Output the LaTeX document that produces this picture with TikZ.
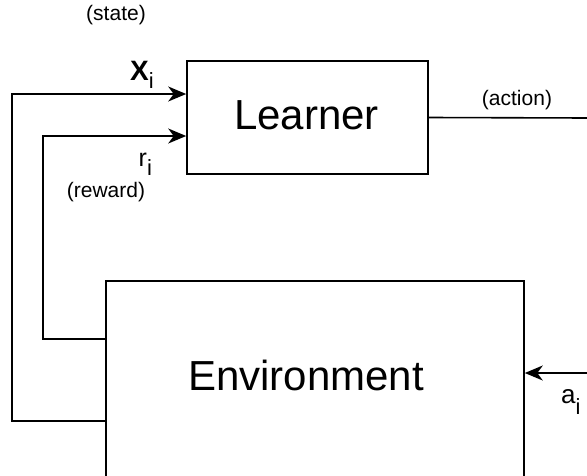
\documentclass[tikz,border=0pt]{standalone}
\usepackage{fontspec}
\setmainfont{Liberation Sans}
\usetikzlibrary{arrows.meta}
\newcommand{\subi}[1]{\raisebox{-#1}{\fontsize{22}{24}\selectfont i}}
\tikzset{
  line/.style={line width=1.6pt, black},
  arr/.style={line, -{Stealth[length=18pt,width=15pt,inset=5.5pt]}},
  boxnode/.style={draw, line width=1.6pt, inner sep=0pt},
  bigtxt/.style={font=\fontsize{42}{46}\selectfont},
  smalltxt/.style={font=\fontsize{21}{23}\selectfont, inner sep=0pt},
  subtxt/.style={inner sep=0pt, anchor=base west},
}
\begin{document}
\begin{tikzpicture}[x=1pt,y=-1pt]
\useasboundingbox (0,0) rectangle (587,475);
% boxes
\node[boxnode, minimum width=241pt, minimum height=113pt] (learner) at (307.5,117.5) {};
\node[bigtxt] (learnertxt) at (306.5,115) {Learner};
\node[boxnode, minimum width=418pt, minimum height=204pt] (env) at (315,383) {};
\node[bigtxt] (envtxt) at (306,375) {Environment};
% free ends
\coordinate (actend) at (590,118);
\coordinate (ain) at (590,373);
\coordinate (sx) at (12,421);
\coordinate (rx) at (43,339);
% action
\draw[line] (learner.east) -- (actend);
\draw[arr] (ain) -- (ain -| env.east);
% state loop
\draw[arr] (sx -| env.west) -- (sx) |- ([yshift=23.5pt]learner.west);
% reward loop
\draw[arr] (rx -| env.west) -- (rx) |- ([yshift=-18.5pt]learner.west);
% labels
\node[smalltxt] (statelbl) at (116,15) {(state)};
\node[smalltxt] (actionlbl) at (517,100) {(action)};
\node[smalltxt] (rewardlbl) at (106,192) {(reward)};
\node[subtxt] (xlbl) at (130,80) {{\fontsize{28}{30}\selectfont\bfseries X}\subi{8pt}};
\node[subtxt] (rlbl) at (138.5,166) {{\fontsize{25}{27}\selectfont r}\subi{9pt}};
\node[subtxt] (albl) at (561,403) {{\fontsize{26}{28}\selectfont a}\subi{11pt}};
\end{tikzpicture}
\end{document}
